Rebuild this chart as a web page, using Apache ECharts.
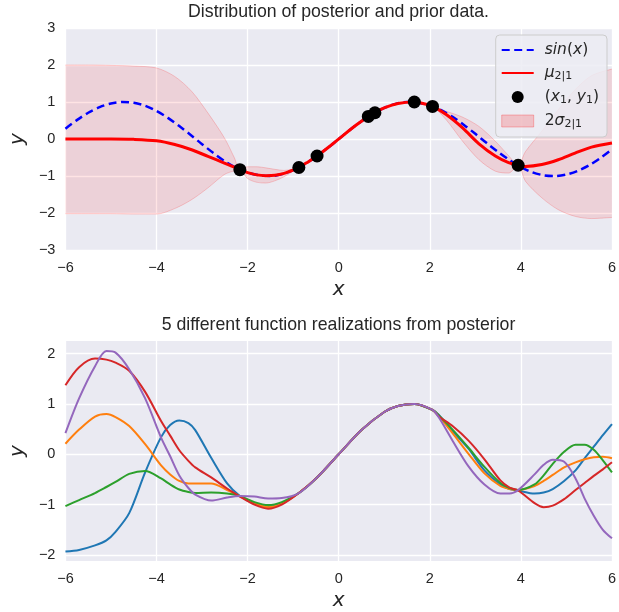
<!DOCTYPE html>
<html>
<head>
<meta charset="utf-8">
<script src="https://cdn.jsdelivr.net/npm/echarts@6/dist/echarts.min.js"></script>
<style>
html,body{margin:0;padding:0;background:#fff;}
#chart{width:619px;height:612px;}
</style>
</head>
<body>
<div id="chart"></div>
<script>
// ---------- Top panel data ----------
const bandX = [-6, -5.5, -5, -4.5, -4, -3.6, -3.23, -2.87, -2.51, -2.29, -2.17, -2.0, -1.8, -1.6, -1.4, -1.2, -1.0, -0.875, -0.7, -0.475, -0.2, 0.1, 0.4, 0.65, 0.795, 1.0, 1.3, 1.66, 1.85, 2.06, 2.36, 2.72, 3.08, 3.44, 3.73, 3.94, 4.10, 4.46, 4.82, 5.19, 5.55, 6.0];
const muY = [0.00, 0.00, 0.00, -0.01, -0.05, -0.15, -0.29, -0.47, -0.65, -0.76, -0.83, -0.91, -0.97, -0.99, -0.98, -0.93, -0.84, -0.77, -0.64, -0.46, -0.20, 0.10, 0.39, 0.61, 0.71, 0.84, 0.96, 1.00, 0.96, 0.88, 0.66, 0.30, -0.13, -0.46, -0.64, -0.71, -0.74, -0.69, -0.56, -0.38, -0.22, -0.11];
const bandUp = [2.00, 2.00, 1.99, 1.97, 1.92, 1.69, 1.29, 0.70, 0.03, -0.51, -0.83, -0.75, -0.75, -0.78, -0.82, -0.85, -0.81, -0.77, -0.63, -0.45, -0.18, 0.13, 0.42, 0.62, 0.71, 0.85, 0.97, 1.00, 0.97, 0.88, 0.75, 0.59, 0.34, -0.06, -0.45, -0.71, -0.34, 0.21, 0.79, 1.33, 1.71, 1.89];
const bandLo = [-2.02, -2.02, -2.02, -2.03, -2.03, -1.88, -1.64, -1.32, -0.96, -0.86, -0.83, -1.07, -1.17, -1.19, -1.13, -1.02, -0.87, -0.77, -0.65, -0.47, -0.22, 0.07, 0.36, 0.60, 0.71, 0.83, 0.95, 1.00, 0.95, 0.88, 0.52, -0.06, -0.56, -0.87, -0.92, -0.71, -1.14, -1.59, -1.91, -2.09, -2.15, -2.12];

const sinX = [-6, -5.75, -5.5, -5.25, -5, -4.75, -4.5, -4.25, -4, -3.75, -3.5, -3.25, -3, -2.75, -2.5, -2.25, -2, -1.75, -1.5, -1.25, -1, -0.75, -0.5, -0.25, 0, 0.25, 0.5, 0.75, 1, 1.25, 1.5, 1.75, 2, 2.25, 2.5, 2.75, 3, 3.25, 3.5, 3.75, 4, 4.25, 4.5, 4.75, 5, 5.25, 5.5, 5.75, 6];
const sinY = [0.28, 0.51, 0.71, 0.86, 0.96, 1.00, 0.98, 0.90, 0.76, 0.57, 0.35, 0.11, -0.14, -0.38, -0.60, -0.78, -0.91, -0.98, -1.00, -0.95, -0.84, -0.68, -0.48, -0.25, 0.00, 0.25, 0.48, 0.68, 0.84, 0.95, 1.00, 0.98, 0.91, 0.78, 0.60, 0.38, 0.14, -0.11, -0.35, -0.57, -0.76, -0.90, -0.98, -1.00, -0.96, -0.86, -0.71, -0.51, -0.28];

const ptsX = [-2.17, -0.875, -0.475, 0.65, 0.795, 1.66, 2.06, 3.94];
const ptsY = [-0.83, -0.77, -0.46, 0.61, 0.71, 1.00, 0.88, -0.71];

// ---------- Bottom panel data ----------
const sampX = [-6, -5.7, -5.35, -5.1, -4.9, -4.6, -4.25, -3.9, -3.7, -3.5, -3.3, -3.15, -2.8, -2.45, -2.17, -1.85, -1.55, -1.25, -0.875, -0.475, 0, 0.5, 1.0, 1.3, 1.66, 2.06, 2.2, 2.5, 2.85, 3.2, 3.55, 3.75, 3.94, 4.3, 4.5, 4.7, 4.95, 5.2, 5.4, 5.6, 5.8, 6.0];
const sampBlue   = [-1.93, -1.90, -1.81, -1.71, -1.54, -1.17, -0.36, 0.34, 0.58, 0.67, 0.62, 0.48, -0.07, -0.58, -0.83, -0.98, -1.04, -0.97, -0.77, -0.46, 0.00, 0.48, 0.84, 0.96, 1.00, 0.88, 0.78, 0.46, 0.11, -0.32, -0.60, -0.69, -0.72, -0.78, -0.76, -0.69, -0.53, -0.32, -0.08, 0.15, 0.38, 0.60];
const sampOrange = [0.21, 0.49, 0.75, 0.80, 0.74, 0.56, 0.20, -0.22, -0.40, -0.53, -0.58, -0.58, -0.58, -0.71, -0.83, -0.97, -1.05, -0.98, -0.77, -0.46, 0.00, 0.48, 0.84, 0.96, 1.00, 0.88, 0.76, 0.42, 0.01, -0.38, -0.63, -0.69, -0.71, -0.63, -0.53, -0.41, -0.26, -0.16, -0.10, -0.06, -0.05, -0.08];
const sampGreen  = [-1.03, -0.91, -0.77, -0.65, -0.55, -0.39, -0.33, -0.48, -0.60, -0.70, -0.75, -0.77, -0.76, -0.78, -0.83, -0.95, -1.01, -0.95, -0.77, -0.46, 0.00, 0.48, 0.84, 0.96, 1.00, 0.88, 0.77, 0.49, 0.13, -0.25, -0.57, -0.67, -0.71, -0.60, -0.42, -0.19, 0.05, 0.19, 0.19, 0.09, -0.12, -0.36];
const sampRed    = [1.37, 1.73, 1.90, 1.88, 1.82, 1.66, 1.24, 0.66, 0.37, 0.08, -0.13, -0.26, -0.46, -0.68, -0.84, -1.00, -1.08, -1.00, -0.77, -0.46, 0.00, 0.48, 0.84, 0.96, 1.00, 0.88, 0.75, 0.56, 0.27, -0.10, -0.52, -0.66, -0.72, -0.97, -1.05, -1.02, -0.89, -0.71, -0.57, -0.43, -0.30, -0.16];
const sampPurple = [0.42, 1.11, 1.75, 2.05, 2.02, 1.69, 1.11, 0.33, -0.04, -0.42, -0.67, -0.80, -0.92, -0.86, -0.83, -0.84, -0.88, -0.87, -0.77, -0.46, 0.00, 0.48, 0.84, 0.96, 1.00, 0.88, 0.73, 0.27, -0.24, -0.60, -0.78, -0.78, -0.71, -0.40, -0.21, -0.11, -0.15, -0.48, -0.88, -1.22, -1.50, -1.67];

const xTicks = [-6, -4, -2, 0, 2, 4, 6];
const titles = ['Distribution of posterior and prior data.', '5 different function realizations from posterior'];

// ---------- helpers ----------
const zip = (xs, ys) => xs.map((x, i) => [x, ys[i]]);
const minus = v => String(v).replace('-', '\u2212');
const TXT = '#262626';

const chart = echarts.init(document.getElementById('chart'), null, {renderer: 'canvas'});

function xAxisCfg(gi) {
  return {
    type: 'value', gridIndex: gi, min: xTicks[0], max: xTicks[xTicks.length - 1], interval: 2,
    axisLine: {show: false}, axisTick: {show: false},
    axisLabel: {color: TXT, fontSize: 14.5, fontFamily: 'Liberation Sans', margin: 10, formatter: minus},
    splitLine: {show: true, lineStyle: {color: '#ffffff', width: 1.3}},
    name: 'x', nameLocation: 'middle', nameGap: 30,
    nameTextStyle: {color: TXT, fontSize: 20, fontStyle: 'italic', fontFamily: 'DejaVu Sans'}
  };
}
function yAxisCfg(gi, mn, mx, iv) {
  const c = {
    type: 'value', gridIndex: gi, min: mn, max: mx,
    axisLine: {show: false}, axisTick: {show: false},
    axisLabel: {color: TXT, fontSize: 14.5, fontFamily: 'Liberation Sans', margin: 10, formatter: minus,
                showMinLabel: iv ? true : false, showMaxLabel: iv ? true : false},
    splitLine: {show: true, showMinLine: !!iv, showMaxLine: !!iv, lineStyle: {color: '#ffffff', width: 1.3}},
    name: 'y', nameLocation: 'middle', nameGap: 32,
    nameTextStyle: {color: TXT, fontSize: 20, fontStyle: 'italic', fontFamily: 'DejaVu Sans'}
  };
  if (iv) c.interval = iv;
  return c;
}

const legendRich = {
  it: {fontFamily: 'DejaVu Sans', fontStyle: 'italic', fontSize: 15.5, color: TXT},
  rm: {fontFamily: 'DejaVu Sans', fontSize: 15.5, color: TXT},
  sub: {fontFamily: 'DejaVu Sans', fontSize: 11, color: TXT, padding: [7, 0, 0, 0]}
};
const legendFmt = {
  'sin(x)': '{it|sin}{rm|(}{it|x}{rm|)}',
  'mu': '{it|μ}{sub|2|1}',
  'pts': '{rm|(}{it|x}{sub|1}{rm|, }{it|y}{sub|1}{rm|)}',
  'sigma': '{rm|2}{it|σ}{sub|2|1}'
};
const noSym = {color: 'rgba(0,0,0,0)', borderWidth: 0, opacity: 0};

const bottomColors = ['#1f77b4', '#ff7f0e', '#2ca02c', '#d62728', '#9467bd'];
const bottomData = [sampBlue, sampOrange, sampGreen, sampRed, sampPurple];

// band: the stack is placed on the y values (dimension 0), x read from dimension 1
const bandLowerData = bandX.map((x, i) => [bandLo[i], x]);
const bandWidthData = bandX.map((x, i) => [+(bandUp[i] - bandLo[i]).toFixed(3), x]);

const option = {
  backgroundColor: '#ffffff',
  animation: false,
  graphic: titles.map((t, i) => ({
    type: 'text', x: 338.5, y: i === 0 ? 12.5 : 325.5,
    style: {text: t, fill: TXT, font: '17.7px "Liberation Sans"', textAlign: 'center', textVerticalAlign: 'middle'}
  })),
  grid: [
    {left: 63, top: 28, width: 551, height: 222, show: true, backgroundColor: '#EAEAF2', borderWidth: 0},
    {left: 63, top: 341, width: 551, height: 222, show: true, backgroundColor: '#EAEAF2', borderWidth: 0}
  ],
  xAxis: [xAxisCfg(0), xAxisCfg(1)],
  yAxis: [yAxisCfg(0, -3, 3, 1), yAxisCfg(1, -2.12, 2.25, null)],
  legend: {
    orient: 'vertical', right: 12, top: 35,
    backgroundColor: 'rgba(236,236,243,0.85)', borderColor: '#cccccc', borderWidth: 1, borderRadius: 4,
    padding: [7, 8, 7, 5], itemGap: 7, itemWidth: 32, itemHeight: 12,
    textStyle: {rich: legendRich, padding: [0, 0, 0, 6]},
    formatter: n => legendFmt[n] || n,
    data: [
      {name: 'sin(x)', itemStyle: noSym},
      {name: 'mu', itemStyle: noSym},
      {name: 'pts', icon: 'circle'},
      {name: 'sigma', icon: 'rect', itemStyle: {color: 'rgba(255,0,0,0.18)', borderColor: 'rgba(255,0,0,0.25)', borderWidth: 1}}
    ]
  },
  series: [
    {
      name: 'bandLower', type: 'line', xAxisIndex: 0, yAxisIndex: 0, stack: 'band', stackStrategy: 'all',
      data: bandLowerData, encode: {x: 1, y: 0}, symbol: 'none', smooth: 0.3, z: 1,
      lineStyle: {color: 'rgba(255,0,0,0.18)', width: 1}
    },
    {
      name: 'sigma', type: 'line', xAxisIndex: 0, yAxisIndex: 0, stack: 'band', stackStrategy: 'all',
      data: bandWidthData, encode: {x: 1, y: 0}, symbol: 'none', smooth: 0.3, z: 1,
      lineStyle: {color: 'rgba(255,0,0,0.18)', width: 1},
      itemStyle: {color: 'rgba(255,0,0,0.18)'},
      areaStyle: {color: 'rgba(255,0,0,0.15)'}
    },
    {
      name: 'sin(x)', type: 'line', xAxisIndex: 0, yAxisIndex: 0,
      data: zip(sinX, sinY), symbol: 'none', smooth: 0.3, z: 3,
      lineStyle: {color: '#0000ff', width: 2.5, type: [8, 4.5]},
      itemStyle: {color: '#0000ff'}
    },
    {
      name: 'mu', type: 'line', xAxisIndex: 0, yAxisIndex: 0,
      data: zip(bandX, muY), symbol: 'none', smooth: 0.3, z: 4,
      lineStyle: {color: '#ff0000', width: 3},
      itemStyle: {color: '#ff0000'}
    },
    {
      name: 'pts', type: 'scatter', xAxisIndex: 0, yAxisIndex: 0,
      data: zip(ptsX, ptsY), symbol: 'circle', symbolSize: 13, z: 5,
      itemStyle: {color: '#000000', opacity: 1}
    }
  ].concat(bottomData.map((d, i) => ({
    name: 'sample' + (i + 1), type: 'line', xAxisIndex: 1, yAxisIndex: 1,
    data: zip(sampX, d), symbol: 'none', smooth: 0.3, z: 2 + i,
    lineStyle: {color: bottomColors[i], width: 2},
    itemStyle: {color: bottomColors[i]}
  })))
};
chart.setOption(option);
</script>
</body>
</html>
